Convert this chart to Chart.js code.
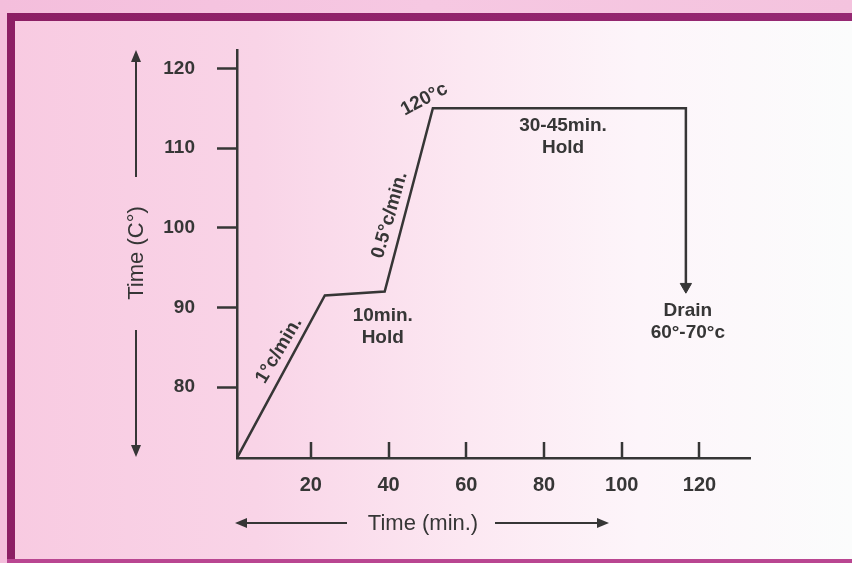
<!DOCTYPE html>
<html><head><meta charset="utf-8">
<script src="https://cdn.jsdelivr.net/npm/chart.js@4/dist/chart.umd.min.js"></script>
<style>html,body{margin:0;padding:0;background:#fff;overflow:hidden}#wrap{width:852px;height:563px}</style>
</head><body><div id="wrap"><canvas id="c" width="852" height="563"></canvas></div>
<script>
// ---- data ----
const timeMin = [1, 23.6, 39, 51.4, 116.5, 116.5];
const tempC   = [71.1, 91.5, 92.0, 115.0, 115.0, 92.6];
const xTickValues = [20, 40, 60, 80, 100, 120];
const yTickValues = [80, 90, 100, 110, 120];
const xTitle = 'Time (min.)';
const yTitle = 'Time (C°)';
const noteTexts = [['1°c/min.'], ['0.5°c/min.'], ['120°c'], ['10min.', 'Hold'], ['30-45min.', 'Hold'], ['Drain', '60°-70°c']];

// placement of the notes (data units) and rotation
const notePlace = [
  {x: 11.8, y: 84.6, rot: -59},
  {x: 40.3, y: 101.6, rot: -74},
  {x: 49.2, y: 116.1, rot: -28},
  {x: 38.5, y: 88.9, rot: 0},
  {x: 84.9, y: 112.8, rot: 0},
  {x: 117.0, y: 89.6, rot: 0}
];

const INK = '#363636';
const FONT = '"Liberation Sans", Arial, sans-serif';

const bgPlugin = {
  id: 'bg',
  beforeDraw(chart) {
    const ctx = chart.ctx, W = chart.width, H = chart.height;
    ctx.save();
    let g = ctx.createLinearGradient(0, 0, W, 0);
    g.addColorStop(0, 'rgb(248,202,225)');
    g.addColorStop(0.3, 'rgb(249,212,231)');
    g.addColorStop(0.55, 'rgb(252,232,242)');
    g.addColorStop(0.75, 'rgb(253,245,250)');
    g.addColorStop(1, 'rgb(251,252,252)');
    ctx.fillStyle = g;
    ctx.fillRect(0, 0, W, H);
    // top strip
    g = ctx.createLinearGradient(0, 0, W, 0);
    g.addColorStop(0, 'rgb(244,190,220)');
    g.addColorStop(0.5, 'rgb(246,200,226)');
    g.addColorStop(1, 'rgb(244,195,222)');
    ctx.fillStyle = g;
    ctx.fillRect(0, 0, W, 13);
    ctx.fillRect(0, 0, 7, H);
    // purple frame
    g = ctx.createLinearGradient(0, 0, W, 0);
    g.addColorStop(0, 'rgb(140,30,100)');
    g.addColorStop(1, 'rgb(150,40,115)');
    ctx.fillStyle = g;
    ctx.fillRect(7, 13, W - 7, 8);
    ctx.fillRect(7, 13, 8, H - 13);
    ctx.fillStyle = 'rgb(185,70,145)';
    ctx.fillRect(7, H - 4, W - 7, 4);
    ctx.restore();
  }
};

function arrow(ctx, x1, y1, x2, y2) {
  const a = Math.atan2(y2 - y1, x2 - x1), L = 12, Wd = 5;
  ctx.beginPath();
  ctx.moveTo(x1, y1);
  ctx.lineTo(x2 - Math.cos(a) * L * 0.8, y2 - Math.sin(a) * L * 0.8);
  ctx.stroke();
  ctx.beginPath();
  ctx.moveTo(x2, y2);
  ctx.lineTo(x2 - Math.cos(a) * L - Math.sin(a) * Wd, y2 - Math.sin(a) * L + Math.cos(a) * Wd);
  ctx.lineTo(x2 - Math.cos(a) * L + Math.sin(a) * Wd, y2 - Math.sin(a) * L - Math.cos(a) * Wd);
  ctx.closePath();
  ctx.fill();
}

const decoPlugin = {
  id: 'deco',
  afterDraw(chart) {
    const ctx = chart.ctx, xs = chart.scales.x, ys = chart.scales.y, ca = chart.chartArea;
    ctx.save();
    ctx.strokeStyle = INK; ctx.fillStyle = INK; ctx.lineWidth = 2.5;
    // inward x ticks
    xTickValues.forEach(v => {
      const px = Math.round(xs.getPixelForValue(v));
      ctx.beginPath(); ctx.moveTo(px, ca.bottom); ctx.lineTo(px, ca.bottom - 16); ctx.stroke();
    });
    // axis titles with arrows
    ctx.font = '22px ' + FONT;
    ctx.textAlign = 'center'; ctx.textBaseline = 'middle';
    ctx.fillText(xTitle, 423, 524);
    ctx.lineWidth = 2;
    arrow(ctx, 347, 523, 235, 523);
    arrow(ctx, 495, 523, 609, 523);
    ctx.save();
    ctx.translate(137, 253); ctx.rotate(-Math.PI / 2);
    ctx.fillText(yTitle, 0, 0);
    ctx.restore();
    arrow(ctx, 136, 177, 136, 50);
    arrow(ctx, 136, 330, 136, 457);
    // notes
    ctx.font = 'bold 19px ' + FONT;
    noteTexts.forEach((lines, i) => {
      const p = notePlace[i];
      ctx.save();
      ctx.translate(xs.getPixelForValue(p.x), ys.getPixelForValue(p.y));
      ctx.rotate(p.rot * Math.PI / 180);
      lines.forEach((t, j) => ctx.fillText(t, 0, j * 22));
      ctx.restore();
    });
    ctx.restore();
  }
};

new Chart(document.getElementById('c'), {
  type: 'line',
  data: {
    datasets: [{
      data: timeMin.map((t, i) => ({x: t, y: tempC[i]})),
      borderColor: INK,
      borderWidth: 2.5,
      tension: 0,
      fill: false,
      pointRadius: timeMin.map((t, i) => i === timeMin.length - 1 ? 6.5 : 0),
      pointStyle: 'triangle',
      rotation: 180,
      pointBackgroundColor: INK,
      pointBorderColor: INK,
      pointBorderWidth: 1
    }]
  },
  options: {
    responsive: false,
    animation: false,
    devicePixelRatio: 1,
    layout: {padding: {left: 0, top: 50, right: 102, bottom: 0}},
    plugins: {legend: {display: false}, tooltip: {enabled: false}},
    scales: {
      x: {
        type: 'linear', min: 1, max: 133,
        afterBuildTicks: s => { s.ticks = xTickValues.map(v => ({value: v})); },
        afterFit: s => { s.height = 105; },
        grid: {drawOnChartArea: false, drawTicks: false},
        border: {display: true, color: INK, width: 2.5},
        ticks: {color: INK, font: {family: FONT, size: 20, weight: 'bold'}, padding: 15, autoSkip: false, maxRotation: 0}
      },
      y: {
        type: 'linear', min: 71.1, max: 122.3,
        afterBuildTicks: s => { s.ticks = yTickValues.map(v => ({value: v})); },
        afterFit: s => { s.width = 237; },
        grid: {drawOnChartArea: false, drawTicks: true, tickLength: 20, tickWidth: 2.5, tickColor: INK},
        border: {display: true, color: INK, width: 2.5},
        ticks: {color: INK, font: {family: FONT, size: 19, weight: 'bold'}, padding: 22, autoSkip: false}
      }
    }
  },
  plugins: [bgPlugin, decoPlugin]
});
</script>
</body></html>
